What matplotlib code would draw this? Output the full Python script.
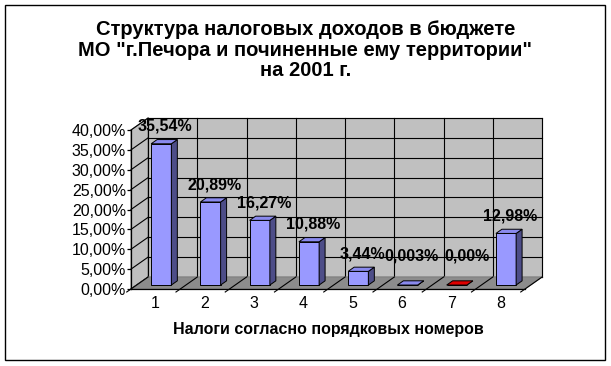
import matplotlib.pyplot as plt
from matplotlib.patches import Polygon, Rectangle
from matplotlib.ticker import FuncFormatter

plt.rcParams['font.family'] = ['Liberation Sans', 'DejaVu Sans']

# Данные диаграммы
nomera = [1, 2, 3, 4, 5, 6, 7, 8]
doli = [35.54, 20.89, 16.27, 10.88, 3.44, 0.003, 0.00, 12.98]
podpisi = ['35,54%', '20,89%', '16,27%', '10,88%', '3,44%', '0,003%', '0,00%', '12,98%']
cveta_front = ['#9999ff'] * 6 + ['#ff0000'] + ['#9999ff']
cveta_side = ['#4d4d88'] * 6 + ['#800000'] + ['#4d4d88']
cveta_top = ['#8a8aee'] * 6 + ['#e00000'] + ['#8a8aee']

titul = 'Структура налоговых доходов в бюджете\nМО "г.Печора и починенные ему территории"\nна 2001 г.'
podpis_x = 'Налоги согласно порядковых номеров'

# глубина "3D" в единицах данных
DX = 0.347
DY = 3.02
X0, X1 = 0.5, 8.5
YMAX = 40

fig = plt.figure(figsize=(6.11, 3.66), dpi=100)
fig.patches.append(Rectangle((5 / 611, 6 / 366), 600 / 611, 355 / 366, transform=fig.transFigure,
                             fill=False, edgecolor='black', linewidth=1.0))
ax = fig.add_axes([131 / 611, 1 - 289 / 366, 394 / 611, 159 / 366])
ax.set_xlim(X0, X1)
ax.set_ylim(0, YMAX)
ax.patch.set_visible(False)
for s in ax.spines.values():
    s.set_visible(False)

# левая стенка и задняя стенка
ax.add_patch(Polygon([(X0, 0), (X0 + DX, DY), (X0 + DX, YMAX + DY), (X0, YMAX)],
                     closed=True, facecolor='#c0c0c0', edgecolor='#808080', lw=0.8, clip_on=False, zorder=0))
ax.add_patch(Polygon([(X0 + DX, DY), (X1 + DX, DY), (X1 + DX, YMAX + DY), (X0 + DX, YMAX + DY)],
                     closed=True, facecolor='#c0c0c0', edgecolor='#808080', lw=0.8, clip_on=False, zorder=0))

# сетка
for yv in range(0, YMAX + 1, 5):
    ax.plot([X0 + DX, X1 + DX], [yv + DY, yv + DY], color='black', lw=0.8, clip_on=False, zorder=1)
    ax.plot([X0, X0 + DX], [yv, yv + DY], color='black', lw=0.8, clip_on=False, zorder=1)
for k in range(len(nomera) + 1):
    xb = X0 + k + DX
    ax.plot([xb, xb], [DY, YMAX + DY], color='black', lw=0.8, clip_on=False, zorder=1)

# пол
ax.add_patch(Polygon([(X0, 0), (X1, 0), (X1 + DX, DY), (X0 + DX, DY)],
                     closed=True, facecolor='#8c8c8c', edgecolor='#808080', lw=0.8, clip_on=False, zorder=2))
for k in range(len(nomera) + 1):
    xb = X0 + k
    ax.plot([xb - 0.25 * DX, xb + DX], [-0.25 * DY, DY], color='black', lw=0.8, clip_on=False, zorder=3)
ax.plot([X0, X1], [0, 0], color='black', lw=0.9, clip_on=False, zorder=3)
ax.plot([X0, X0], [0, YMAX], color='black', lw=0.9, clip_on=False, zorder=3)

# столбцы
w = 0.41
f = 0.33
b = f * DY
ddx = 0.35 * DX
ddy = 0.35 * DY
centers = [n + f * DX for n in nomera]
ax.bar(centers, doli, width=w, bottom=b, color=cveta_front, edgecolor='black', linewidth=0.7, zorder=5)
for c, v, cs, ct in zip(centers, doli, cveta_side, cveta_top):
    xl, xr = c - w / 2, c + w / 2
    ax.add_patch(Polygon([(xr, b), (xr + ddx, b + ddy), (xr + ddx, b + v + ddy), (xr, b + v)],
                         closed=True, facecolor=cs, edgecolor='black', lw=0.7, zorder=5, clip_on=False))
    ax.add_patch(Polygon([(xl, b + v), (xr, b + v), (xr + ddx, b + v + ddy), (xl + ddx, b + v + ddy)],
                         closed=True, facecolor=ct, edgecolor='black', lw=0.7, zorder=5, clip_on=False))

# подписи значений (у нулевых подписи чуть выше и раздвинуты, как в Excel)
for i, (c, v, t) in enumerate(zip(centers, doli, podpisi)):
    y_lab = max(b + v + 4.4, 8.2)
    sdvig = 10 if i == 6 else 4
    ax.annotate(t, (c, y_lab), xytext=(sdvig * 0.72, 0), textcoords='offset points',
                ha='center', va='center', fontsize=11.5, fontweight='bold', zorder=6, annotation_clip=False)

ax.set_yticks(range(0, YMAX + 1, 5))
ax.yaxis.set_major_formatter(FuncFormatter(lambda v, p: f'{v:.2f}%'.replace('.', ',')))
ax.set_xticks(nomera)
ax.tick_params(axis='y', length=3, width=0.9, labelsize=11.5, pad=0.5)
ax.tick_params(axis='x', length=0, labelsize=11.5, pad=5)

ax.set_xlabel(podpis_x, fontsize=11.5, fontweight='bold', labelpad=8)
fig.text(0.5, 1 - 50 / 366, titul, ha='center', va='center', fontsize=14.5, fontweight='bold',
         linespacing=1.1)

fig.savefig('out.png', dpi=100)
